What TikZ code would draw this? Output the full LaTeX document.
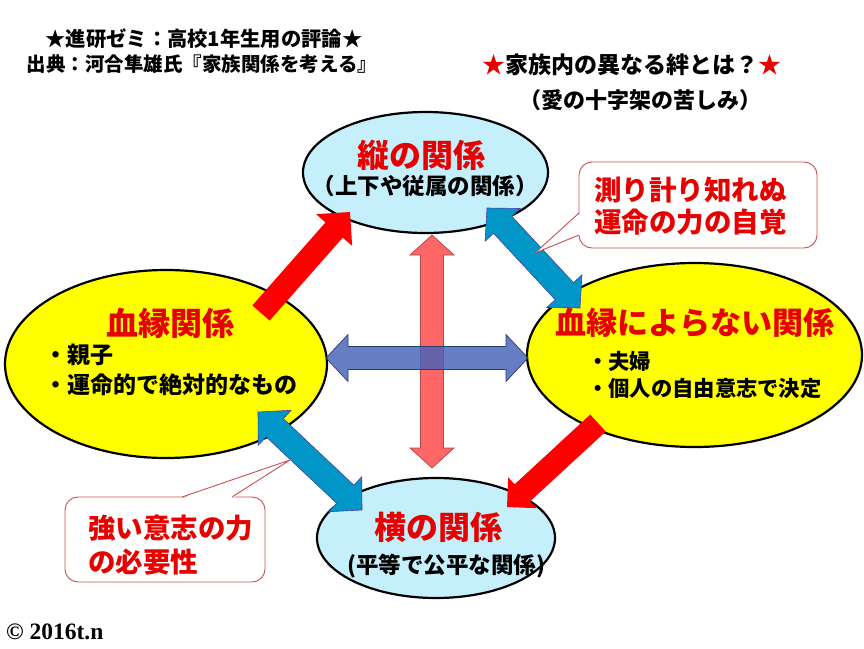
\documentclass[tikz,border=0pt]{standalone}
\usepackage{fontspec}
\setmainfont{Noto Sans CJK JP}
\newfontfamily\serifcr{Liberation Serif}
\usetikzlibrary{shapes.geometric,calc}
\definecolor{titlered}{RGB}{230,0,0}
\definecolor{lblue}{RGB}{198,239,252}
\definecolor{yel}{RGB}{255,255,0}
\definecolor{arrred}{RGB}{255,0,0}
\definecolor{teal1}{RGB}{0,150,200}
\definecolor{pinkarr}{RGB}{255,102,102}
\definecolor{bluearr}{RGB}{68,98,184}
\definecolor{callline}{RGB}{200,80,80}
\newcommand\fatSingle[6]{%
  \coordinate (fh) at ($(#3)!#6!(#2)$);
  \path[#1] ($(#2)!#4!90:(#3)$) -- ($(fh)!#4!90:(#3)$) -- ($(fh)!#5!90:(#3)$) -- (#3)
    -- ($(fh)!#5!-90:(#3)$) -- ($(fh)!#4!-90:(#3)$) -- ($(#2)!#4!-90:(#3)$) -- cycle;}
\newcommand\fatDouble[6]{%
  \coordinate (fa) at ($(#2)!#6!(#3)$);
  \coordinate (fb) at ($(#3)!#6!(#2)$);
  \path[#1] (#2) -- ($(fa)!#5!90:(#3)$) -- ($(fa)!#4!90:(#3)$) -- ($(fb)!#4!90:(#3)$)
    -- ($(fb)!#5!90:(#3)$) -- (#3) -- ($(fb)!#5!-90:(#3)$) -- ($(fb)!#4!-90:(#3)$)
    -- ($(fa)!#4!-90:(#3)$) -- ($(fa)!#5!-90:(#3)$) -- cycle;}
\begin{document}
\begin{tikzpicture}[x=1pt,y=-1pt,
  ell/.style={ellipse, draw=black, line width=2.2pt, inner sep=0pt},
  redtitle/.style={text=titlered, font=\fontsize{32}{36}\selectfont\bfseries, inner sep=0pt},
  subt/.style={text=black, font=\fontsize{22.5}{26}\selectfont\bfseries, inner sep=0pt},
  bullet/.style={text=black, font=\fontsize{23}{26}\selectfont\bfseries, inner sep=0pt, anchor=west},
  hdr/.style={text=black, font=\fontsize{19.5}{22}\selectfont\bfseries, inner sep=0pt},
  callbox/.style={draw=callline, line width=0.9pt, fill=white, rounded corners=13pt, inner sep=0pt},
  calltext/.style={text=titlered, font=\fontsize{27.5}{32}\selectfont\bfseries, inner sep=0pt, anchor=west},
  redarrow/.style={fill=arrred},
  tealarrow/.style={fill=teal1, draw=teal1!60!black!70!magenta, line width=0.6pt},
  pinkarrow/.style={fill=pinkarr, draw=pinkarr!70!black, line width=0.7pt},
  bluearrow/.style={fill=bluearr, fill opacity=0.82, draw=bluearr!60!black, line width=0.7pt}
]
\useasboundingbox (0,0) rectangle (864,648);
\fill[white] (0,0) rectangle (864,648);

% ellipses
\node[ell, fill=lblue, minimum width=245pt, minimum height=121pt] (tate) at (425.5,172.5) {};
\node[ell, fill=yel, minimum width=322pt, minimum height=188pt] (ketsu) at (166,364) {};
\node[ell, fill=yel, minimum width=335pt, minimum height=184pt] (hiketsu) at (694.5,355) {};
\node[ell, fill=lblue, minimum width=238pt, minimum height=120pt] (yoko) at (436,538) {};

% arrow end points
\coordinate (pinkT) at (432,235);
\coordinate (pinkB) at (432,468);
\coordinate (blueL) at (326,358);
\coordinate (blueR) at (528,358);
\coordinate (redAt) at (261,313);
\coordinate (redAh) at (350,212);
\coordinate (redBt) at (598,423);
\coordinate (redBh) at (507,507);
\coordinate (tealA1) at (487,208);
\coordinate (tealA2) at (580,308);
\coordinate (tealB1) at (258,412);
\coordinate (tealB2) at (362,510);

\fatDouble{pinkarrow}{pinkT}{pinkB}{11.5pt}{22pt}{20pt}
\fatDouble{bluearrow}{blueL}{blueR}{11.5pt}{23.5pt}{22pt}
\fatSingle{redarrow}{redAt}{redAh}{11.5pt}{24pt}{24pt}
\fatSingle{redarrow}{redBt}{redBh}{11.5pt}{21pt}{21pt}
\fatDouble{tealarrow}{tealA1}{tealA2}{12.5pt}{24pt}{23pt}
\fatDouble{tealarrow}{tealB1}{tealB2}{12.5pt}{24pt}{23pt}

% callouts
\node[callbox, minimum width=238pt, minimum height=86pt] (callR) at (698,205) {};
\coordinate (cRtip) at (535,253);
\fill[white] (580.5,213) -- (cRtip) -- (580.5,235) -- cycle;
\draw[callline, line width=0.9pt] (579,213) -- (cRtip) -- (579,235);
\node[calltext] (callRa) at (594,190) {測り計り知れぬ};
\node[calltext] (callRb) at (594,222) {運命の力の自覚};

\node[callbox, minimum width=200pt, minimum height=85pt] (callL) at (165,539.5) {};
\coordinate (cLtip) at (290,460);
\fill[white] (182,498.5) -- (cLtip) -- (232,498.5) -- cycle;
\draw[callline, line width=0.9pt] (182,497) -- (cLtip) -- (232,497);
\node[calltext] (callLa) at (88,528) {強い意志の力};
\node[calltext] (callLb) at (88,562) {の必要性};

% ellipse texts
\node[redtitle] (tateT) at (421,155) {縦の関係};
\node[subt] (tateS) at (425,186) {（上下や従属の関係）};
\node[redtitle] (ketsuT) at (170,323) {血縁関係};
\node[bullet] (ketsuA) at (44,355) {・親子};
\node[bullet] (ketsuB) at (44,385) {・運命的で絶対的なもの};
\node[redtitle, font=\fontsize{31}{36}\selectfont\bfseries] (hiketsuT) at (695,323) {血縁によらない関係};
\node[bullet, font=\fontsize{21.3}{24}\selectfont\bfseries] (hiketsuA) at (587,361) {・夫婦};
\node[bullet, font=\fontsize{21.3}{24}\selectfont\bfseries] (hiketsuB) at (587,388) {・個人の自由意志で決定};
\node[redtitle] (yokoT) at (438,527) {横の関係};
\node[subt] (yokoS) at (446,566) {(平等で公平な関係)};

% headers
\node[hdr, font=\fontsize{20.3}{22}\selectfont\bfseries] (h1) at (204,38.5) {★進研ゼミ：高校1年生用の評論★};
\node[hdr] (h2) at (202,64) {出典：河合隼雄氏『家族関係を考える』};
\node[hdr, font=\fontsize{23}{26}\selectfont\bfseries] (h3) at (632,65) {\textcolor{titlered}{★}家族内の異なる絆とは？\textcolor{titlered}{★}};
\node[hdr, font=\fontsize{22}{24}\selectfont\bfseries] (h4) at (640,100) {（愛の十字架の苦しみ）};
\node[text=black, font=\serifcr\fontsize{23.5}{26}\selectfont\bfseries, inner sep=0pt, anchor=west] (copy) at (6,632) {© 2016t.n};
\end{tikzpicture}
\end{document}
